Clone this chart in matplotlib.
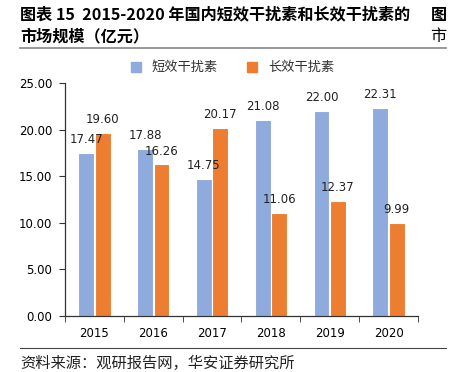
import matplotlib.pyplot as plt
import numpy as np
from matplotlib.lines import Line2D

plt.rcParams['font.family'] = ['Noto Sans CJK SC', 'DejaVu Sans']

years = ["2015", "2016", "2017", "2018", "2019", "2020"]
short_acting = [17.47, 17.88, 14.75, 21.08, 22.00, 22.31]
long_acting = [19.60, 16.26, 20.17, 11.06, 12.37, 9.99]
series_names = ["短效干扰素", "长效干扰素"]
colors = ["#8FAADC", "#ED7D31"]


def main():
    fig = plt.figure(figsize=(4.51, 3.72), dpi=100)
    ax = fig.add_axes([0.1441, 0.1505, 0.7827, 0.6264])

    x = np.arange(len(years))
    w = 0.27
    for vals, off, c in [(short_acting, -0.14, colors[0]), (long_acting, 0.14, colors[1])]:
        bars = ax.bar(x + off, vals, w, color=c, edgecolor="white", linewidth=0.8)
        for b, v in zip(bars, vals):
            ax.annotate(f"{v:.2f}", (b.get_x() + b.get_width() / 2, v),
                        xytext=(0, 5), textcoords="offset points",
                        ha="center", va="bottom", fontsize=8.5,
                        family="DejaVu Sans", color="#222222")

    ax.set_xlim(-0.5, len(years) - 0.5)
    ax.set_ylim(0, 25)
    ax.set_yticks(np.arange(0, 25.1, 5))
    ax.set_yticklabels([f"{t:.2f}" for t in np.arange(0, 25.1, 5)],
                       family="DejaVu Sans", fontsize=8.5)
    ax.set_xticks(x)
    ax.set_xticklabels(years, family="DejaVu Sans", fontsize=8.5)
    ax.set_xticks(np.arange(-0.5, len(years), 1), minor=True)
    ax.tick_params(axis="x", which="major", length=0, pad=8)
    ax.tick_params(axis="x", which="minor", length=4, direction="out", color="#333333")
    ax.tick_params(axis="y", length=4, direction="out", color="#333333", pad=5)
    for s in ["top", "right"]:
        ax.spines[s].set_visible(False)
    for s in ["left", "bottom"]:
        ax.spines[s].set_color("#333333")
        ax.spines[s].set_linewidth(0.9)

    handles = [Line2D([], [], marker="s", linestyle="none", markersize=7,
                      markerfacecolor=c, markeredgecolor=c) for c in colors]
    fig.legend(handles, series_names, loc="center", bbox_to_anchor=(0.507, 0.818),
               ncol=2, frameon=False, fontsize=9.5, handletextpad=0.2,
               columnspacing=1.6, labelcolor="#333333")

    fig.text(0.044, 0.982, "图表 15  2015-2020 年国内短效干扰素和长效干扰素的",
             fontsize=11.6, fontweight="bold", va="top", ha="left")
    fig.text(0.99, 0.982, "图", fontsize=11.6, fontweight="bold", va="top", ha="right")
    fig.text(0.044, 0.925, "市场规模（亿元）", fontsize=11.6, fontweight="bold",
             va="top", ha="left")
    fig.text(0.99, 0.925, "市", fontsize=11.6, va="top", ha="right")
    fig.add_artist(Line2D([0.044, 0.99], [0.87, 0.87], color="#888888", linewidth=1.2))
    fig.add_artist(Line2D([0.044, 0.99], [0.064, 0.064], color="#444444", linewidth=0.8))
    fig.text(0.044, 0.047, "资料来源：观研报告网，华安证券研究所", fontsize=11,
             va="top", ha="left", color="#222222")

    fig.savefig("out.png", dpi=100)


if __name__ == "__main__":
    main()
